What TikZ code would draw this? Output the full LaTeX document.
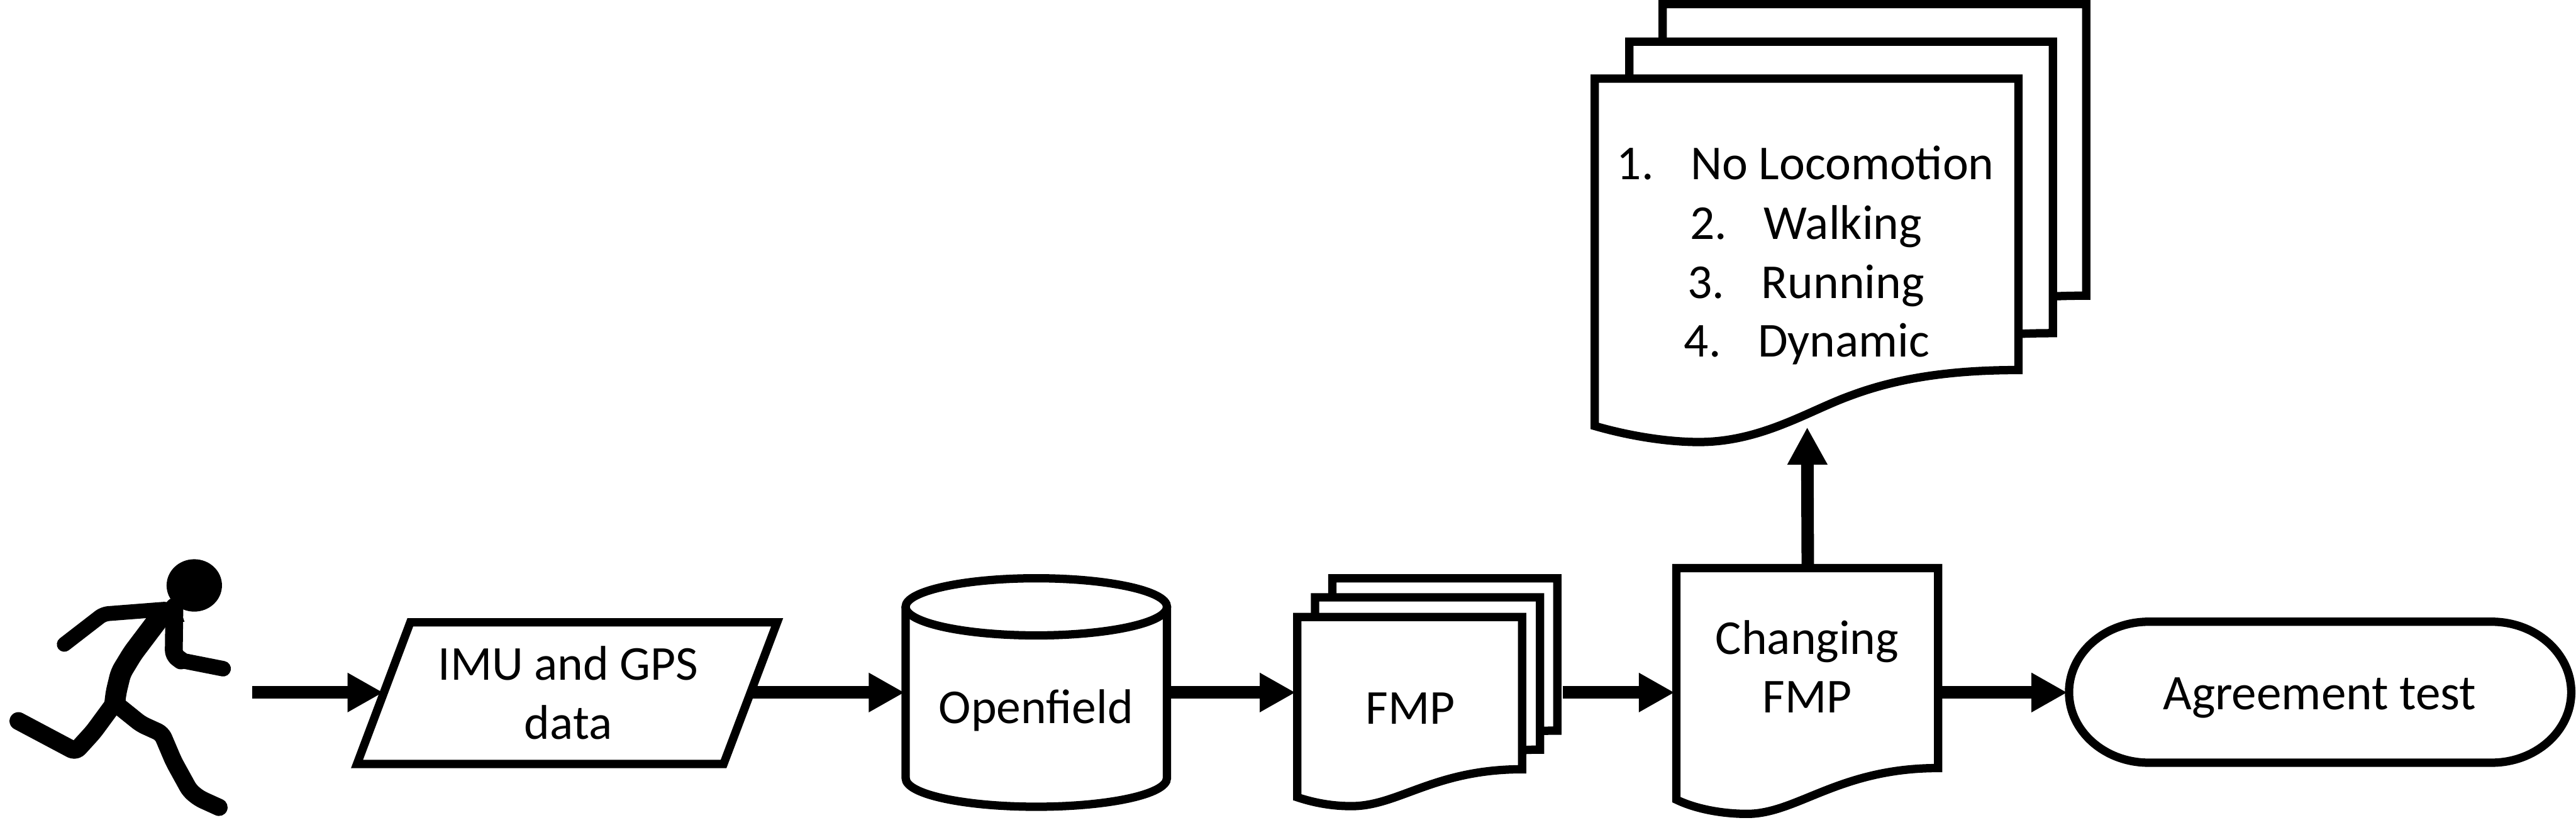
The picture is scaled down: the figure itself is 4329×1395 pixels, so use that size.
\documentclass[tikz,border=0pt]{standalone}
\usepackage{fontspec}
\setmainfont{Carlito}
\usetikzlibrary{arrows.meta}
\tikzset{
  px/.style={x=0.01cm,y=-0.01cm},
  shapeline/.style={draw=black,fill=white,line width=0.14cm,miter limit=10},
  flow/.style={draw=black,line width=0.21cm,-{Triangle[length=0.6cm,width=0.62cm]}},
  flowup/.style={draw=black,line width=0.21cm,-{Triangle[length=0.63cm,width=0.63cm]}},
  label/.style={inner sep=0pt,outer sep=0pt,anchor=base,font=\fontsize{23.3}{28.1}\selectfont,align=center},
  biglabel/.style={label,font=\fontsize{23.8}{28.1}\selectfont},
  listline/.style={inner sep=0pt,outer sep=0pt,anchor=base west,font=\fontsize{23.3}{28.1}\selectfont},
  limb/.style={draw=black,line cap=round,line join=round,rounded corners=0.08cm}
}
\newcommand{\num}[1]{\makebox[1.24cm][l]{#1}}
\newcommand{\bigdoc}{(2680,132) -- (3392,132) -- (3392,622) .. controls (3280,622) and (3190,635) .. (3110,665) .. controls (3040,690) and (2960,743) .. (2855,743) .. controls (2800,743) and (2735,732) .. (2680,716) -- cycle}
\newcommand{\smalldoc}{(2180,1037) -- (2558,1037) -- (2558,1293) .. controls (2410,1293) and (2350,1355) .. (2271,1355) .. controls (2240,1355) and (2210,1350) .. (2180,1340) -- cycle}
\begin{document}
\begin{tikzpicture}[px]
\useasboundingbox (0,0) rectangle (4329,1395);
% runner
\fill[black] (326.5,984) ellipse [x radius=0.465cm,y radius=0.44cm];
\draw[limb,line width=0.25cm] (108,1083) -- (174,1032) -- (277,1024);
\draw[limb,line width=0.30cm] (293,1020) -- (292,1101) -- (304,1110);
\draw[limb,line width=0.26cm] (304,1110) -- (375,1124);
\draw[limb,line width=0.35cm] (263,1045) -- (223,1098) -- (203,1131) -- (195,1164) -- (193,1181);
\draw[limb,line width=0.30cm] (193,1181) -- (157,1230) -- (127,1263) -- (31,1212);
\draw[limb,line width=0.29cm] (196,1184) -- (237,1217) -- (272,1233) -- (292,1280) -- (319,1329) -- (335,1342) -- (368,1357);
\fill[black] (260,1015) -- (300,1015) -- (310,1045) -- (260,1050) -- cycle;
% parallelogram
\draw[shapeline] (689.5,1046) -- (1306,1046) -- (1216,1284) -- (600,1284) -- cycle;
\coordinate (runnerout) at (424,1164);
\coordinate (imuin) at (644,1164);
\coordinate (imuout) at (1261,1164);
\node[label] (imu) at (955,1242) {IMU and GPS\\data};
% cylinder
\draw[shapeline] (1522,1020) -- (1522,1308) .. controls (1522,1335) and (1620,1356) .. (1741.5,1356) .. controls (1863,1356) and (1961,1335) .. (1961,1308) -- (1961,1020);
\draw[shapeline] (1741.5,1020) ellipse [x radius=2.195cm,y radius=0.48cm];
\coordinate (ofin) at (1520,1164);
\coordinate (ofout) at (1968,1164);
\node[label] (of) at (1741,1216) {Openf{}ield};
% FMP stack
\draw[shapeline,shift={(59,-65)}] \smalldoc;
\draw[shapeline,shift={(30,-33)}] \smalldoc;
\draw[shapeline] \smalldoc;
\coordinate (fmpin) at (2177,1164);
\coordinate (fmpout) at (2626,1164);
\node[label] (fmp) at (2370,1217) {FMP};
% changing FMP
\draw[shapeline] (2817,955) -- (3257,955) -- (3257,1291) .. controls (3090,1291) and (3020,1368) .. (2936,1368) .. controls (2895,1368) and (2850,1360) .. (2817,1344) -- cycle;
\coordinate (chin) at (2814,1164);
\coordinate (chout) at (3264,1164);
\coordinate (chtop) at (3038,948);
\node[label] (ch) at (3037,1198) {Changing\\FMP};
% agreement terminator
\draw[shapeline] (3611,1045) -- (4187,1045) .. controls (4261,1045) and (4321,1098) .. (4321,1163.5) .. controls (4321,1229) and (4261,1282) .. (4187,1282) -- (3611,1282) .. controls (3537,1282) and (3477,1229) .. (3477,1163.5) .. controls (3477,1098) and (3537,1045) .. (3611,1045) -- cycle;
\coordinate (agin) at (3474,1164);
\node[biglabel] (ag) at (3898,1193) {Agreement test};
% class stack
\draw[shapeline,shift={(114,-125)}] \bigdoc;
\draw[shapeline,shift={(58,-62)}] \bigdoc;
\draw[shapeline] \bigdoc;
\coordinate (stackin) at (3037,718);
\node[listline] (l1) at (2717,302) {\num{1.}No Locomotion};
\node[listline] (l2) at (2840,402) {\num{2.}Walking};
\node[listline] (l3) at (2836,501) {\num{3.}Running};
\node[listline] (l4) at (2830,600) {\num{4.}Dynamic};
% connectors
\draw[flow] (runnerout) -- (imuin);
\draw[flow] (imuout) -- (ofin);
\draw[flow] (ofout) -- (fmpin);
\draw[flow] (fmpout) -- (chin);
\draw[flow] (chout) -- (agin);
\draw[flowup] (chtop) -- (stackin);
\end{tikzpicture}
\end{document}
